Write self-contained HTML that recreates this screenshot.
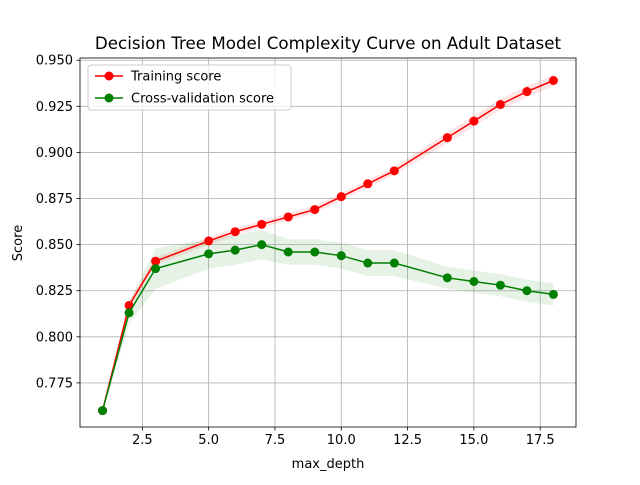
<!DOCTYPE html>
<html><head><meta charset="utf-8"><style>
body{margin:0;background:#fff;font-family:"Liberation Sans","DejaVu Sans",sans-serif}
svg text{font-family:"DejaVu Sans","Liberation Sans",sans-serif;fill:#000}
</style></head><body>
<svg id="chart" width="640" height="480">
<rect width="640" height="480" fill="#fff"/>
<g id="grid"></g><g id="bands"></g><g id="series"></g><g id="axes"></g>
<text x="328" y="49" font-size="16.7" text-anchor="middle">Decision Tree Model Complexity Curve on Adult Dataset</text>
<text x="328" y="468" font-size="13" text-anchor="middle">max_depth</text>
<text x="22" y="243" font-size="13" text-anchor="middle" transform="rotate(-90 22 243)">Score</text>
<g>
<rect x="88" y="65" width="203" height="45" rx="3" fill="#fff" fill-opacity="0.8" stroke="#ccc"/>
<line x1="95" y1="76" x2="123" y2="76" stroke="red" stroke-width="1.5"/>
<circle cx="109" cy="76" r="4.5" fill="red"/>
<text x="131" y="80.5" font-size="13">Training score</text>
<line x1="95" y1="98" x2="123" y2="98" stroke="green" stroke-width="1.5"/>
<circle cx="109" cy="98" r="4.5" fill="green"/>
<text x="131" y="102.5" font-size="13">Cross-validation score</text>
</g>
</svg>
<script>
const depths=[1,2,3,5,6,7,8,9,10,11,12,14,15,16,17,18];
const trainScores=[0.760,0.817,0.841,0.852,0.857,0.861,0.865,0.869,0.876,0.883,0.890,0.908,0.917,0.926,0.933,0.939];
const trainStd=[0.001,0.002,0.002,0.002,0.002,0.002,0.002,0.002,0.002,0.002,0.002,0.003,0.003,0.003,0.003,0.003];
const cvScores=[0.760,0.813,0.837,0.845,0.847,0.850,0.846,0.846,0.844,0.840,0.840,0.832,0.830,0.828,0.825,0.823];
const cvStd=[0.001,0.006,0.011,0.008,0.008,0.008,0.007,0.007,0.007,0.007,0.007,0.006,0.006,0.006,0.006,0.006];
const xTicks=[2.5,5.0,7.5,10.0,12.5,15.0,17.5];
const yTicks=[0.775,0.800,0.825,0.850,0.875,0.900,0.925,0.950];
const L=80,R=576,T=58,B=427,xMin=0.15,xMax=18.85,yMin=0.7511,yMax=0.9512;
const X=v=>L+(v-xMin)/(xMax-xMin)*(R-L);
const Y=v=>B-(v-yMin)/(yMax-yMin)*(B-T);
const NS="http://www.w3.org/2000/svg";
function mk(tag,parent,attrs){const e=document.createElementNS(NS,tag);for(const k in attrs)e.setAttribute(k,attrs[k]);document.getElementById(parent).appendChild(e);return e;}
xTicks.forEach(t=>{
 const g=mk('line','grid',{x1:X(t),x2:X(t),y1:T,y2:B,stroke:'#b0b0b0','stroke-width':0.8});
 
 
 const k=mk('line','axes',{x1:X(t),x2:X(t),y1:B,y2:B+3.5,stroke:'#000','stroke-width':0.8});
 
 
 const l=mk('text','axes',{x:X(t),y:B+17,'font-size':13,'text-anchor':'middle'});l.textContent=t.toFixed(1);
 
 
});
yTicks.forEach(t=>{
 const g=mk('line','grid',{x1:L,x2:R,y1:Y(t),y2:Y(t),stroke:'#b0b0b0','stroke-width':0.8});
 
 
 const k=mk('line','axes',{x1:L-3.5,x2:L,y1:Y(t),y2:Y(t),stroke:'#000','stroke-width':0.8});
 
 
 const l=mk('text','axes',{x:L-7,y:Y(t)+4.5,'font-size':13,'text-anchor':'end'});l.textContent=t.toFixed(3);
 
 
});
const frame=mk('rect','axes',{x:L,y:T,width:R-L,height:B-T,fill:'none',stroke:'#000','stroke-width':0.8});


function band(s,sd,color,name){
 const up=depths.map((d,i)=>X(d)+','+Y(s[i]+sd[i]));
 const lo=depths.map((d,i)=>X(d)+','+Y(s[i]-sd[i])).reverse();
 const p=mk('polygon','bands',{points:up.concat(lo).join(' '),fill:color,'fill-opacity':0.1});
 
 
}
band(trainScores,trainStd,'red','training-std-band');
band(cvScores,cvStd,'green','cv-std-band');
function line(s,color,name){
 const pl=mk('polyline','series',{points:depths.map((d,i)=>X(d)+','+Y(s[i])).join(' '),fill:'none',stroke:color,'stroke-width':1.5});
 
 
 depths.forEach((d,i)=>{
  const c=mk('circle','series',{cx:X(d),cy:Y(s[i]),r:4.5,fill:color});
  
  
 });
}
line(trainScores,'red','training');
line(cvScores,'green','cv');
</script>
</body></html>
